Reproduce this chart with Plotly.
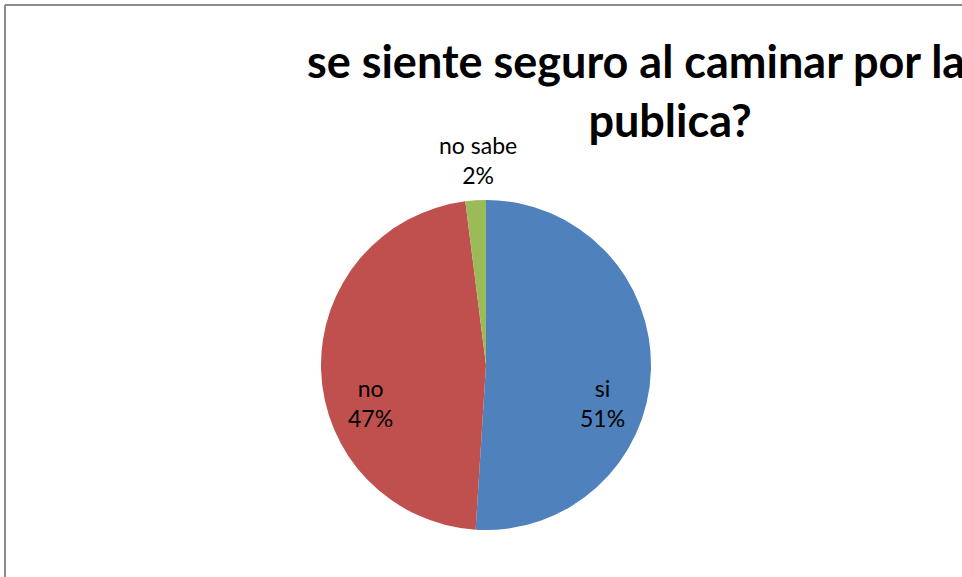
import plotly.graph_objects as go

labels = ["si", "no", "no sabe"]
values = [51, 47, 2]
colors = ["#4F81BD", "#C0504D", "#9BBB59"]
title_text = "se siente seguro al caminar por la vía<br>publica?"

W, H = 962, 577
FONT = "Lato, sans-serif"

fig = go.Figure(go.Pie(
    labels=labels,
    values=values,
    sort=False,
    direction="clockwise",
    rotation=0,
    marker=dict(colors=colors, line=dict(width=0)),
    textinfo="none",
    domain=dict(x=[321 / W, 651 / W], y=[1 - 530 / H, 1 - 200 / H]),
    showlegend=False,
    hoverinfo="label+percent",
))

total = sum(values)
label_pos = [(602, 403), (370, 403), (478, 160)]
annotations = []
for lab, val, (px, py) in zip(labels, values, label_pos):
    annotations.append(dict(
        text=f"{lab}<br>{round(100 * val / total)}%",
        x=px / W, y=1 - py / H, xref="paper", yref="paper",
        xanchor="center", yanchor="middle", showarrow=False,
        font=dict(family=FONT, size=23, color="black"),
    ))

fig.update_layout(
    width=W, height=H,
    margin=dict(l=0, r=0, t=0, b=0),
    paper_bgcolor="white",
    plot_bgcolor="white",
    title=dict(
        text=title_text,
        x=670 / W, xanchor="center",
        y=1 - 78 / H, yanchor="top",
        font=dict(family=FONT, size=45, color="black", weight="bold"),
    ),
    annotations=annotations,
    shapes=[
        dict(type="line", xref="paper", yref="paper",
             x0=5 / W, x1=1, y0=1 - 5 / H, y1=1 - 5 / H,
             line=dict(color="#8A8A8A", width=2)),
        dict(type="line", xref="paper", yref="paper",
             x0=5 / W, x1=5 / W, y0=0, y1=1 - 5 / H,
             line=dict(color="#8A8A8A", width=2)),
    ],
)

fig.write_html("out.html", config={"displayModeBar": False},
               post_script="document.body.style.margin='0';document.body.style.overflow='hidden';")
